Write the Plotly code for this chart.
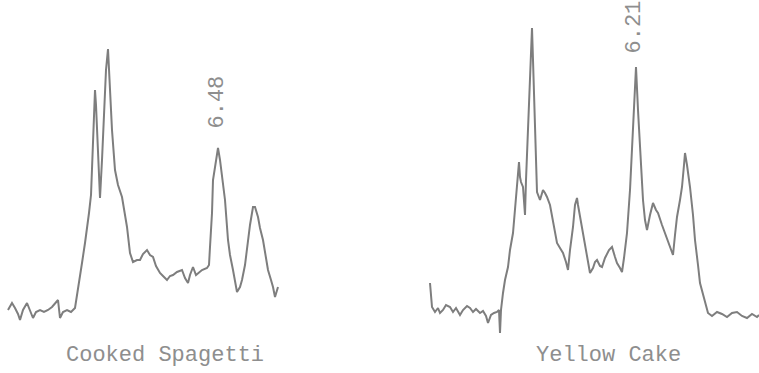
import plotly.graph_objects as go

# Chromatogram traces (time units, detector response)
spag_time = [8,10,12,15,18,20,23,27,30,33,36,40,44,48,52,55,58,60,63,67,71,75,78,80,82,85,87,89,91,93,95,96,98,100,102,104,106,108,110,112,115,118,122,125,127,130,133,137,140,143,147,150,153,156,160,163,167,170,173,177,182,185,188,190,193,196,198,202,207,209,210,212,213,215,217,218,220,222,225,228,230,233,235,237,240,242,245,247,250,253,255,258,260,263,266,268,271,273,275,277,278]
spag_py = [310,306,303,308,314,320,310,303,310,318,312,310,312,310,307,303,300,318,312,310,312,308,290,275,263,243,230,213,195,150,90,105,150,198,160,110,70,49,90,130,170,185,197,215,227,253,262,260,260,254,250,255,257,266,273,276,280,276,275,272,270,278,283,275,267,275,273,270,268,265,247,213,180,165,153,148,160,175,200,240,255,270,282,292,287,280,265,247,225,207,207,217,228,240,258,270,280,287,297,290,287]

cake_time = [430,431,432,435,438,440,443,446,450,453,456,460,463,467,470,473,476,480,483,486,488,491,494,497,499,500,501,503,505,508,510,513,515,517,518,519,520,521,523,524,525,526,528,530,532,533,535,536,537,540,542,543,545,547,550,552,555,557,560,563,566,568,570,573,575,577,578,580,583,585,588,590,593,595,597,600,602,605,609,612,615,617,620,622,624,627,630,632,634,636,638,640,642,643,645,647,650,653,656,658,662,665,668,671,673,675,677,680,682,684,685,687,690,693,695,698,700,704,708,712,717,722,727,732,737,742,747,752,757,759]
cake_py = [283,300,307,312,308,313,310,305,307,312,308,315,310,306,308,312,309,313,311,316,323,315,313,312,310,333,310,293,280,267,250,233,210,187,170,162,177,182,187,200,215,180,133,80,28,60,133,170,192,200,192,190,193,197,205,217,235,243,248,253,262,270,250,227,205,198,205,217,232,243,262,273,268,262,260,266,267,258,250,247,257,263,268,272,258,233,190,150,105,67,110,150,180,200,220,230,215,203,210,213,225,233,240,250,255,235,217,200,187,165,153,165,187,215,240,265,283,298,313,316,312,314,317,313,312,316,318,314,317,315]

BASE = 340
spag_signal = [BASE - v for v in spag_py]
cake_signal = [BASE - v for v in cake_py]

panel_names = ["Cooked Spagetti", "Yellow Cake"]
peak_labels = ["6.48", "6.21"]

LINE = "#7e7e7e"
TEXT = "#8e8e8e"
FONT = "Liberation Mono"

fig = go.Figure()
fig.add_trace(go.Scatter(x=spag_time, y=spag_signal, mode="lines",
                         line=dict(color=LINE, width=2), hoverinfo="skip"))
fig.add_trace(go.Scatter(x=cake_time, y=cake_signal, mode="lines",
                         line=dict(color=LINE, width=2), hoverinfo="skip"))

# peak labels over labelled peaks
spag_pk = max(range(len(spag_time)), key=lambda i: spag_signal[i] if spag_time[i] > 200 else -1e9)
cake_pk = max(range(len(cake_time)), key=lambda i: cake_signal[i] if cake_time[i] > 600 else -1e9)

fig.add_annotation(x=spag_time[spag_pk] - 1, y=spag_signal[spag_pk] + 17, text=peak_labels[0],
                   textangle=-90, showarrow=False, yanchor="bottom", xanchor="center",
                   font=dict(family=FONT, size=22, color=TEXT))
fig.add_annotation(x=cake_time[cake_pk] - 2, y=cake_signal[cake_pk] + 11, text=peak_labels[1],
                   textangle=-90, showarrow=False, yanchor="bottom", xanchor="center",
                   font=dict(family=FONT, size=22, color=TEXT))

fig.add_annotation(x=165, y=BASE - 355, text=panel_names[0], showarrow=False,
                   font=dict(family=FONT, size=22, color=TEXT))
fig.add_annotation(x=608, y=BASE - 355, text=panel_names[1], showarrow=False,
                   font=dict(family=FONT, size=22, color=TEXT))

fig.update_layout(
    width=759, height=373, margin=dict(l=0, r=0, t=0, b=0),
    paper_bgcolor="white", plot_bgcolor="white", showlegend=False,
    xaxis=dict(range=[0, 759], visible=False, fixedrange=True),
    yaxis=dict(range=[BASE - 373, BASE], visible=False, fixedrange=True),
)

fig.write_html("out.html")
